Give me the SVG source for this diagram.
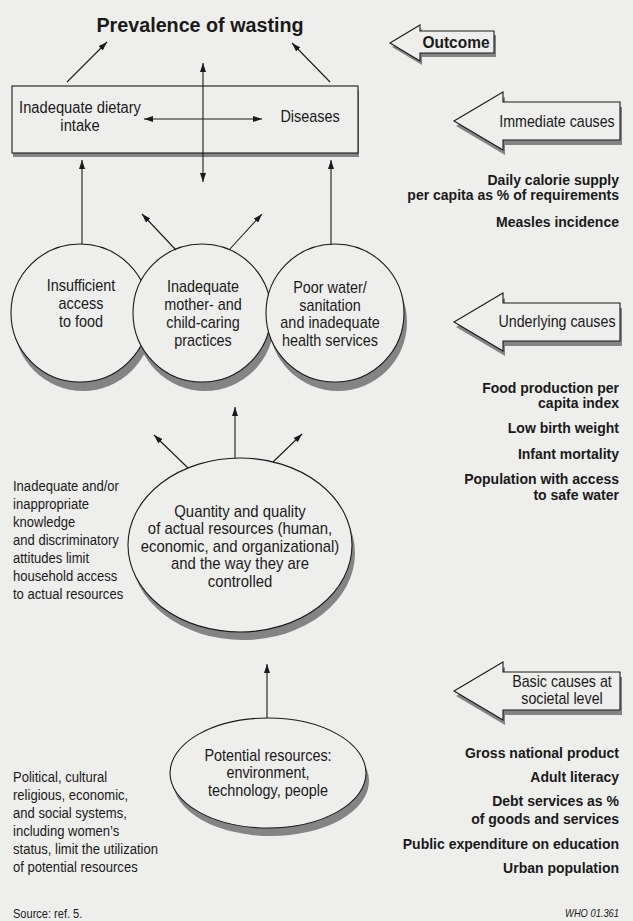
<svg xmlns="http://www.w3.org/2000/svg" width="633" height="921" viewBox="0 0 633 921">
<style>
.bg{fill:#eeeeec}
.ln{stroke:#1a1a1a;stroke-width:1.1;fill:none}
.shape{fill:#eeeeec;stroke:#1a1a1a;stroke-width:1.1}
.sh{fill:#848484}
text{font-family:"Liberation Sans",Arial,sans-serif;fill:#1a1a1a}
.r16{font-size:16px}
.r15{font-size:15px}
.b14{font-size:14px;font-weight:bold;text-anchor:end}
.c{text-anchor:middle}
</style>
<defs>
<marker id="ah" viewBox="0 0 9 6" refX="9" refY="3" markerWidth="9" markerHeight="6" markerUnits="userSpaceOnUse" orient="auto-start-reverse">
<path d="M0,0L9,3L0,6z" fill="#1a1a1a"/>
</marker>
</defs>
<rect class="bg" x="0" y="0" width="633" height="921"/>

<g id="title">
<text transform="translate(200,0) scale(0.94,1)" x="0" y="32" class="c" style="font-size:21px;font-weight:bold">Prevalence of wasting</text>
</g>

<g id="outcome">
<path class="sh" transform="translate(2,4)" d="M390,43 L420,25 L420,31 L494,31 L494,53 L420,53 L420,61 Z"/>
<path class="shape" d="M390,43 L420,25 L420,31 L494,31 L494,53 L420,53 L420,61 Z"/>
<text transform="translate(456,0) scale(0.91,1)" x="0" y="48" class="c" style="font-size:17px;font-weight:bold">Outcome</text>
</g>

<g id="immediate-causes">
<path class="sh" transform="translate(2,5)" d="M454,121 L503,92 L503,102 L620,102 L620,140 L503,140 L503,150 Z"/>
<path class="shape" d="M454,121 L503,92 L503,102 L620,102 L620,140 L503,140 L503,150 Z"/>
<text transform="translate(557,0) scale(0.89,1)" x="0" y="127" class="c r16">Immediate causes</text>
</g>

<g id="underlying-causes">
<path class="sh" transform="translate(2,5)" d="M454,322 L503,293 L503,303 L620,303 L620,341 L503,341 L503,351 Z"/>
<path class="shape" d="M454,322 L503,293 L503,303 L620,303 L620,341 L503,341 L503,351 Z"/>
<text transform="translate(557,0) scale(0.89,1)" x="0" y="327" class="c r16">Underlying causes</text>
</g>

<g id="basic-causes">
<path class="sh" transform="translate(2,5)" d="M454,691 L503,662 L503,672 L620,672 L620,710 L503,710 L503,720 Z"/>
<path class="shape" d="M454,691 L503,662 L503,672 L620,672 L620,710 L503,710 L503,720 Z"/>
<g transform="translate(562,0) scale(0.89,1)">
<text x="0" y="687" class="c r16">Basic causes at</text>
<text x="0" y="704" class="c r16">societal level</text>
</g>
</g>

<g id="immediate-box">
<rect class="sh" x="13" y="90" width="346" height="67"/>
<rect class="shape" x="12" y="86" width="346" height="67"/>
<g transform="translate(80,0) scale(0.92,1)">
<text x="0" y="113" class="c r16">Inadequate dietary</text>
<text x="0" y="131" class="c r16">intake</text>
</g>
<text transform="translate(310,0) scale(0.9,1)" x="0" y="122" class="c r16">Diseases</text>
</g>

<g id="access-food">
<circle class="sh" cx="83" cy="322" r="69"/>
<circle class="shape" cx="80" cy="313" r="69"/>
<g transform="translate(81,0) scale(0.9,1)">
<text x="0" y="291" class="c r16">Insufficient</text>
<text x="0" y="309" class="c r16">access</text>
<text x="0" y="327" class="c r16">to food</text>
</g>
</g>

<g id="caring-practices">
<circle class="sh" cx="205" cy="322" r="69"/>
<circle class="shape" cx="202" cy="313" r="69"/>
<g transform="translate(203,0) scale(0.9,1)">
<text x="0" y="292" class="c r16">Inadequate</text>
<text x="0" y="310" class="c r16">mother- and</text>
<text x="0" y="328" class="c r16">child-caring</text>
<text x="0" y="346" class="c r16">practices</text>
</g>
</g>

<g id="water-health">
<circle class="sh" cx="338" cy="322" r="69"/>
<circle class="shape" cx="335" cy="313" r="69"/>
<g transform="translate(330,0) scale(0.9,1)">
<text x="0" y="293.5" class="c r16">Poor water/</text>
<text x="0" y="311" class="c r16">sanitation</text>
<text x="0" y="328.5" class="c r16">and inadequate</text>
<text x="0" y="346" class="c r16">health services</text>
</g>
</g>

<g id="actual-resources">
<ellipse class="sh" cx="243" cy="553" rx="112" ry="87"/>
<ellipse class="shape" cx="240" cy="545" rx="112" ry="87"/>
<g transform="translate(240,0) scale(0.93,1)">
<text x="0" y="517" class="c r16">Quantity and quality</text>
<text x="0" y="534.5" class="c r16">of actual resources (human,</text>
<text x="0" y="552" class="c r16">economic, and organizational)</text>
<text x="0" y="569.5" class="c r16">and the way they are</text>
<text x="0" y="587" class="c r16">controlled</text>
</g>
</g>

<g id="potential-resources">
<ellipse class="sh" cx="271" cy="781" rx="98" ry="55"/>
<ellipse class="shape" cx="268" cy="773" rx="98" ry="55"/>
<g transform="translate(268,0) scale(0.9,1)">
<text x="0" y="761" class="c r16">Potential resources:</text>
<text x="0" y="778.5" class="c r16">environment,</text>
<text x="0" y="796" class="c r16">technology, people</text>
</g>
</g>

<g id="indicators-immediate">
<text x="619" y="185" class="b14">Daily calorie supply</text>
<text x="619" y="200" class="b14">per capita as % of requirements</text>
<text x="619" y="227" class="b14">Measles incidence</text>
</g>

<g id="indicators-underlying">
<text x="619" y="393" class="b14">Food production per</text>
<text x="619" y="408" class="b14">capita index</text>
<text x="619" y="433" class="b14">Low birth weight</text>
<text x="619" y="459" class="b14">Infant mortality</text>
<text x="619" y="484" class="b14">Population with access</text>
<text x="619" y="500" class="b14">to safe water</text>
</g>

<g id="indicators-basic">
<text x="619" y="758" class="b14">Gross national product</text>
<text x="619" y="782" class="b14">Adult literacy</text>
<text x="619" y="806" class="b14">Debt services as %</text>
<text x="619" y="824" class="b14">of goods and services</text>
<text x="619" y="849" class="b14">Public expenditure on education</text>
<text x="619" y="873" class="b14">Urban population</text>
</g>

<g id="note-actual" transform="translate(13,0) scale(0.87,1)">
<text x="0" y="491" class="r15">Inadequate and/or</text>
<text x="0" y="509" class="r15">inappropriate</text>
<text x="0" y="527" class="r15">knowledge</text>
<text x="0" y="545" class="r15">and discriminatory</text>
<text x="0" y="563" class="r15">attitudes limit</text>
<text x="0" y="581" class="r15">household access</text>
<text x="0" y="599" class="r15">to actual resources</text>
</g>

<g id="note-potential" transform="translate(13,0) scale(0.87,1)">
<text x="0" y="782" class="r15">Political, cultural</text>
<text x="0" y="800" class="r15">religious, economic,</text>
<text x="0" y="818" class="r15">and social systems,</text>
<text x="0" y="836" class="r15">including women’s</text>
<text x="0" y="854" class="r15">status, limit the utilization</text>
<text x="0" y="872" class="r15">of potential resources</text>
</g>

<g id="source">
<text transform="translate(13,0) scale(0.85,1)" x="0" y="918" style="font-size:13px">Source: ref. 5.</text>
</g>
<g id="code">
<text transform="translate(619,0) scale(0.89,1)" x="0" y="917" style="font-size:10.5px;font-style:italic;text-anchor:end">WHO 01.361</text>
</g>

<g id="connectors">
<line class="ln" x1="67" y1="82" x2="107" y2="42" marker-end="url(#ah)"/>
<line class="ln" x1="330" y1="82" x2="292" y2="43" marker-end="url(#ah)"/>
<line class="ln" x1="203" y1="63" x2="203" y2="182" marker-start="url(#ah)" marker-end="url(#ah)"/>
<line class="ln" x1="144" y1="119" x2="262" y2="119" marker-start="url(#ah)" marker-end="url(#ah)"/>
<line class="ln" x1="82" y1="244" x2="82" y2="160" marker-end="url(#ah)"/>
<line class="ln" x1="331" y1="245" x2="331" y2="160" marker-end="url(#ah)"/>
<line class="ln" x1="176" y1="250" x2="142" y2="214" marker-end="url(#ah)"/>
<line class="ln" x1="229" y1="250" x2="262" y2="214" marker-end="url(#ah)"/>
<line class="ln" x1="188" y1="468" x2="154" y2="435" marker-end="url(#ah)"/>
<line class="ln" x1="235" y1="458" x2="235" y2="407" marker-end="url(#ah)"/>
<line class="ln" x1="273" y1="462" x2="302" y2="434" marker-end="url(#ah)"/>
<line class="ln" x1="267" y1="718" x2="267" y2="664" marker-end="url(#ah)"/>
</g>
</svg>
